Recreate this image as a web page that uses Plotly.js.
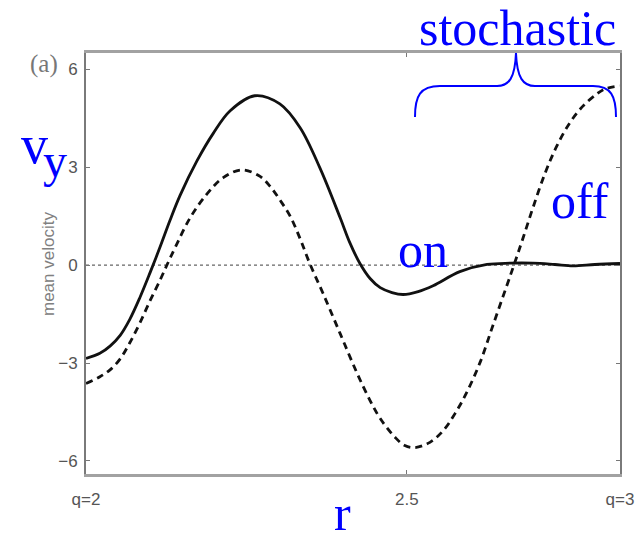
<!DOCTYPE html>
<html>
<head>
<meta charset="utf-8">
<script src="https://cdn.plot.ly/plotly-3.0.1.min.js"></script>
<style>
  html, body { margin: 0; padding: 0; background: #fff; }
  #chart { width: 642px; height: 536px; }
</style>
</head>
<body>
<div id="chart"></div>
<script>
// Mean velocity profile v_y across r (q = 2 ... 3)
// Solid: stochastic forcing on; dashed: stochastic forcing off
const rOn = [2.000, 2.026, 2.045, 2.064, 2.082, 2.101, 2.120, 2.139, 2.157, 2.176,
             2.208, 2.238, 2.270, 2.316, 2.363, 2.401, 2.438, 2.476, 2.494, 2.513,
             2.532, 2.551, 2.573, 2.594, 2.622, 2.650, 2.700, 2.751, 2.794, 2.837,
             2.878, 2.912, 2.953, 3.000];
const vOn = [-2.86, -2.70, -2.48, -2.15, -1.66, -0.99, -0.23, 0.57, 1.36, 2.13,
             3.20, 4.03, 4.73, 5.19, 4.94, 4.21, 2.98, 1.45, 0.69, 0.05,
             -0.41, -0.69, -0.84, -0.90, -0.81, -0.63, -0.20, 0.02, 0.06, 0.06,
             0.02, -0.02, 0.02, 0.05];

const rOff = [2.000, 2.026, 2.045, 2.064, 2.082, 2.101, 2.120, 2.139, 2.152, 2.167,
              2.195, 2.227, 2.257, 2.292, 2.326, 2.345, 2.363, 2.382, 2.401, 2.419,
              2.444, 2.476, 2.507, 2.532, 2.551, 2.579, 2.597, 2.616, 2.644, 2.669,
              2.691, 2.713, 2.738, 2.762, 2.788, 2.803, 2.818, 2.837, 2.860, 2.882,
              2.906, 2.931, 2.957, 2.972, 3.000];
const vOff = [-3.63, -3.42, -3.21, -2.87, -2.38, -1.77, -1.09, -0.45, 0.02, 0.54,
              1.45, 2.19, 2.68, 2.92, 2.72, 2.41, 2.00, 1.51, 0.81, 0.05,
              -0.87, -2.10, -3.29, -4.15, -4.70, -5.28, -5.53, -5.59, -5.43, -5.07,
              -4.55, -3.90, -2.98, -1.85, -0.63, 0.08, 0.81, 1.76, 2.83, 3.66,
              4.36, 4.88, 5.25, 5.40, 5.49];

const yTickVals = [-6, -3, 0, 3, 6];
const xTickVals = [2, 2.601, 3];
const xTickText = ['q=2', '2.5', 'q=3'];

// plot box in page pixels
const L = 86, R = 620, T = 53, B = 474;
const W = 642, H = 536;
const px = x => (x - L) / (R - L);
const py = y => (B - y) / (B - T);

const blue = '#0000ff';
const serif = '"Liberation Serif", "Times New Roman", serif';
const sans = '"Liberation Sans", Arial, Helvetica, sans-serif';

const traces = [
  {
    x: rOn, y: vOn, type: 'scatter', mode: 'lines', name: 'on',
    line: { color: '#111', width: 2.8, shape: 'spline', smoothing: 1 },
    hoverinfo: 'skip'
  },
  {
    x: rOff, y: vOff, type: 'scatter', mode: 'lines', name: 'off',
    line: { color: '#111', width: 2.8, dash: '7px,5px', shape: 'spline', smoothing: 1 },
    hoverinfo: 'skip'
  }
];

// curly brace over the right-hand region
function bracePath() {
  const P = (x, y) => px(x).toFixed(4) + ',' + py(y).toFixed(4);
  return 'M' + P(415, 117) +
         ' C' + P(415, 96) + ' ' + P(420, 86) + ' ' + P(440, 86) +
         ' L' + P(497, 86) +
         ' C' + P(509, 86) + ' ' + P(515, 78) + ' ' + P(516, 53) +
         ' C' + P(517, 78) + ' ' + P(523, 86) + ' ' + P(535, 86) +
         ' L' + P(593, 86) +
         ' C' + P(611, 86) + ' ' + P(616, 96) + ' ' + P(616, 117);
}

function label(text, cx, cy, size, color, family, extra) {
  return Object.assign({
    text: text, xref: 'paper', yref: 'paper', x: px(cx), y: py(cy),
    xanchor: 'center', yanchor: 'middle', showarrow: false,
    font: { size: size, color: color, family: family }
  }, extra || {});
}

const layout = {
  width: W, height: H,
  margin: { l: L, r: W - R, t: T, b: H - B, pad: 0 },
  paper_bgcolor: '#fff', plot_bgcolor: '#fff',
  showlegend: false,
  xaxis: {
    range: [2, 3], tickmode: 'array', tickvals: xTickVals, ticktext: xTickText,
    ticks: 'inside', ticklen: 4, tickcolor: '#777', tickwidth: 1,
    showline: true, linecolor: '#a2a2a2', linewidth: 3, mirror: 'ticks',
    showgrid: false, zeroline: false,
    ticklabelstandoff: 8,
    tickfont: { size: 17, color: '#555', family: sans }
  },
  yaxis: {
    range: [-6.4, 6.5], tickmode: 'array', tickvals: yTickVals,
    ticks: 'inside', ticklen: 4, tickcolor: '#777', tickwidth: 1,
    showline: true, linecolor: '#7a7a7a', linewidth: 2, mirror: 'ticks',
    showgrid: false, zeroline: false,
    ticklabelstandoff: 3,
    tickfont: { size: 17, color: '#555', family: sans }
  },
  shapes: [
    { type: 'line', xref: 'paper', yref: 'y', x0: 0, x1: 1, y0: 0, y1: 0,
      line: { color: '#666', width: 1.4, dash: 'dot' }, layer: 'below' },
    { type: 'path', xref: 'paper', yref: 'paper', path: bracePath(),
      line: { color: blue, width: 2 } }
  ],
  annotations: [
    label('(a)', 44, 64, 25, '#777', serif),
    label('mean velocity', 48, 264, 17, '#808080', sans, { textangle: -90 }),
    label('v', 34, 145, 54, blue, serif),
    label('y', 55, 160, 48, blue, serif),
    label('r', 342, 513, 50, blue, serif),
    label('stochastic', 517, 28, 50, blue, serif),
    label('on', 423, 250, 50, blue, serif),
    label('off', 580, 201, 50, blue, serif)
  ]
};

Plotly.newPlot('chart', traces, layout, { staticPlot: true, displayModeBar: false });
</script>
</body>
</html>
